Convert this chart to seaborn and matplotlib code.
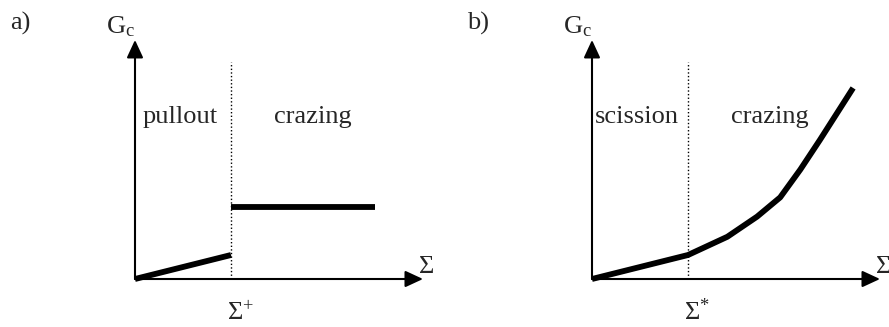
import matplotlib
matplotlib.use("Agg")
import matplotlib.pyplot as plt
import seaborn as sns
import pandas as pd

sns.set_theme(style="white")
plt.rcParams["font.family"] = ["Liberation Serif", "DejaVu Serif"]
plt.rcParams["mathtext.fontset"] = "custom"
plt.rcParams["mathtext.rm"] = "Liberation Serif"
plt.rcParams["mathtext.it"] = "Liberation Serif:italic"

# Panel a: pullout below the threshold, constant crazing toughness above it
sigma_a_pullout = [0.0, 1.0]
gc_a_pullout = [0.0, 0.25]
sigma_a_crazing = [1.0, 2.5]
gc_a_crazing = [0.75, 0.75]
threshold_a = 1.0

# Panel b: chain scission below the threshold, rising crazing toughness above it
sigma_b = [0.0, 1.0, 1.41, 1.72, 1.96, 2.17, 2.375, 2.72]
gc_b = [0.0, 0.25, 0.44, 0.65, 0.85, 1.14, 1.45, 1.99]
threshold_b = 1.0

panel_labels = ["a)", "b)"]
regime_labels = [("pullout", "crazing"), ("scission", "crazing")]
threshold_labels = ["Σ$^{+}$", "Σ$^{*}$"]

W, H, DPI = 889, 327, 100
SCALE = 96.0          # pixels per data unit
ORIGINS = [(135, 279), (592, 279)]
X_END, Y_END, DOT_TOP = 3.0, 2.49, 2.26
FS = 19

fig = plt.figure(figsize=(W / DPI, H / DPI), dpi=DPI)
fig.patch.set_facecolor("white")


def make_axes(left_px, right_px, origin):
    ox, oy = origin
    ax = fig.add_axes([left_px / W, 0, (right_px - left_px) / W, 1])
    ax.set_xlim((left_px - ox) / SCALE, (right_px - ox) / SCALE)
    ax.set_ylim(-(H - oy) / SCALE, oy / SCALE)
    ax.set_axis_off()
    return ax


def draw_frame(ax, threshold, panel, regimes, tlabel):
    arrow = dict(arrowstyle="-|>,head_length=0.54,head_width=0.25",
                 mutation_scale=20, lw=1.5, color="black",
                 shrinkA=0, shrinkB=0)
    ax.annotate("", xy=(X_END, 0), xytext=(0, 0), arrowprops=arrow)
    ax.annotate("", xy=(0, Y_END), xytext=(0, 0), arrowprops=arrow)
    ax.plot([threshold, threshold], [0, DOT_TOP], color="black",
            lw=1.0, linestyle=(0, (1.0, 1.6)))
    ax.text(-1.302, 2.66, panel, fontsize=FS, ha="left", va="center")
    ax.text(-0.30, 2.56, r"G$_\mathrm{c}$", fontsize=FS, ha="left",
            va="baseline")
    ax.text(0.47, 1.628, regimes[0], fontsize=FS, ha="center", va="baseline")
    ax.text(1.854, 1.628, regimes[1], fontsize=FS, ha="center", va="baseline")
    ax.text(X_END - 0.045, 0.0625, "Σ", fontsize=FS, ha="left",
            va="baseline")
    ax.text(threshold - 0.04, -0.427, tlabel, fontsize=FS, ha="left",
            va="baseline")


def thick(ax, xs, ys):
    df = pd.DataFrame({"sigma": xs, "gc": ys})
    sns.lineplot(data=df, x="sigma", y="gc", ax=ax, color="black",
                 lw=4.2, sort=False, estimator=None, legend=False,
                 solid_capstyle="butt", solid_joinstyle="round")


ax_a = make_axes(0, W / 2, ORIGINS[0])
draw_frame(ax_a, threshold_a, panel_labels[0], regime_labels[0],
           threshold_labels[0])
thick(ax_a, sigma_a_pullout, gc_a_pullout)
thick(ax_a, sigma_a_crazing, gc_a_crazing)

ax_b = make_axes(W / 2, W, ORIGINS[1])
draw_frame(ax_b, threshold_b, panel_labels[1], regime_labels[1],
           threshold_labels[1])
thick(ax_b, sigma_b, gc_b)

for ax in (ax_a, ax_b):
    ax.set_xlabel("")
    ax.set_ylabel("")
    ax.set_axis_off()

fig.savefig("out.png", dpi=DPI, facecolor="white")
